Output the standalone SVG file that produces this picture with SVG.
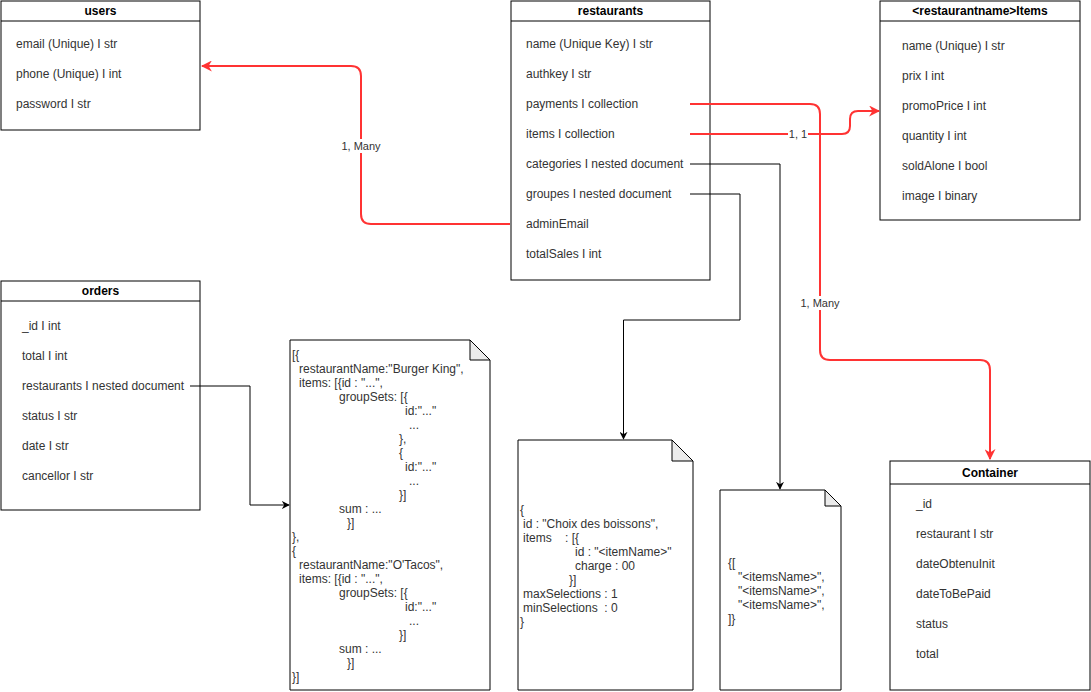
<svg xmlns="http://www.w3.org/2000/svg" width="1091" height="692" viewBox="0 0 1091 692">
<defs>
<style>
.box{fill:#fff;stroke:#000;stroke-width:1}
.title{font-family:"Liberation Sans",Arial,sans-serif;font-size:12px;font-weight:bold;fill:#000;text-anchor:middle;dominant-baseline:central}
.row{font-family:"Liberation Sans",Arial,sans-serif;font-size:12px;fill:#333;dominant-baseline:central}
.doc{font-family:"Liberation Sans",Arial,sans-serif;font-size:12px;fill:#333;dominant-baseline:central;white-space:pre}
.fold{fill:#ebebeb;stroke:#000;stroke-width:1}
.red{fill:none;stroke:#FF3333;stroke-width:2}
.blk{fill:none;stroke:#000;stroke-width:1}
.lbl{font-family:"Liberation Sans",Arial,sans-serif;font-size:11px;fill:#333;text-anchor:middle;dominant-baseline:central}
</style>
<marker id="ar" viewBox="0 0 10 10" refX="9" refY="5" markerWidth="8" markerHeight="8" markerUnits="userSpaceOnUse" orient="auto"><path d="M0,0 L10,5 L0,10 L3,5 Z" fill="#000"/></marker>
<marker id="arr" viewBox="0 0 10 10" refX="9" refY="5" markerWidth="11" markerHeight="11" markerUnits="userSpaceOnUse" orient="auto"><path d="M0,0 L10,5 L0,10 L3,5 Z" fill="#FF3333"/></marker>
</defs>
<rect width="1091" height="692" fill="#fff"/>

<g id="users">
<rect class="box" x="1" y="1" width="199" height="129"/>
<line class="blk" x1="1" y1="21" x2="200" y2="21"/>
<text class="title" x="100.5" y="11">users</text>
<text class="row" x="16" y="44">email (Unique) I str</text>
<text class="row" x="16" y="74">phone (Unique) I int</text>
<text class="row" x="16" y="104">password I str</text>
</g>

<g id="restaurants">
<rect class="box" x="511" y="1" width="199" height="279"/>
<line class="blk" x1="511" y1="21" x2="710" y2="21"/>
<text class="title" x="610.5" y="11">restaurants</text>
<text class="row" x="526" y="44">name (Unique Key) I str</text>
<text class="row" x="526" y="74">authkey I str</text>
<text class="row" x="526" y="104">payments I collection</text>
<text class="row" x="526" y="134">items I collection</text>
<text class="row" x="526" y="164">categories I nested document</text>
<text class="row" x="526" y="194">groupes I nested document</text>
<text class="row" x="526" y="224">adminEmail</text>
<text class="row" x="526" y="254">totalSales I int</text>
</g>

<g id="items">
<rect class="box" x="880" y="1" width="200" height="219"/>
<line class="blk" x1="880" y1="21" x2="1080" y2="21"/>
<text class="title" x="980" y="11">&lt;restaurantname&gt;Items</text>
<text class="row" x="902" y="46">name (Unique) I str</text>
<text class="row" x="902" y="76">prix I int</text>
<text class="row" x="902" y="106">promoPrice I int</text>
<text class="row" x="902" y="136">quantity I int</text>
<text class="row" x="902" y="166">soldAlone I bool</text>
<text class="row" x="902" y="196">image I binary</text>
</g>

<g id="orders">
<rect class="box" x="1" y="281" width="199" height="229"/>
<line class="blk" x1="1" y1="301" x2="200" y2="301"/>
<text class="title" x="100.5" y="291">orders</text>
<text class="row" x="22" y="326">_id I int</text>
<text class="row" x="22" y="356">total I int</text>
<text class="row" x="22" y="386">restaurants I nested document</text>
<text class="row" x="22" y="416">status I str</text>
<text class="row" x="22" y="446">date I str</text>
<text class="row" x="22" y="476">cancellor I str</text>
</g>

<g id="container">
<rect class="box" x="890" y="461" width="200" height="229"/>
<line class="blk" x1="890" y1="484" x2="1090" y2="484"/>
<text class="title" x="990" y="473">Container</text>
<text class="row" x="916" y="504">_id</text>
<text class="row" x="916" y="534">restaurant I str</text>
<text class="row" x="916" y="564">dateObtenuInit</text>
<text class="row" x="916" y="594">dateToBePaid</text>
<text class="row" x="916" y="624">status</text>
<text class="row" x="916" y="654">total</text>
</g>

<g id="doc-orders">
<path class="box" d="M290,340 L470,340 L490,360 L490,690 L290,690 Z"/>
<path class="fold" d="M470,340 L470,360 L490,360 Z"/>
<text class="doc">
<tspan x="292" y="355">[{</tspan>
<tspan x="299" y="369">restaurantName:"Burger King",</tspan>
<tspan x="299" y="383">items: [{id : "...",</tspan>
<tspan x="339" y="397">groupSets: [{</tspan>
<tspan x="405" y="411">id:"..."</tspan>
<tspan x="409" y="425">...</tspan>
<tspan x="399" y="439">},</tspan>
<tspan x="399" y="453">{</tspan>
<tspan x="405" y="467">id:"..."</tspan>
<tspan x="409" y="481">...</tspan>
<tspan x="399" y="495">}]</tspan>
<tspan x="339" y="509">sum : ...</tspan>
<tspan x="347" y="523">}]</tspan>
<tspan x="292" y="537">},</tspan>
<tspan x="292" y="551">{</tspan>
<tspan x="299" y="565">restaurantName:"O'Tacos",</tspan>
<tspan x="299" y="579">items: [{id : "...",</tspan>
<tspan x="339" y="593">groupSets: [{</tspan>
<tspan x="405" y="607">id:"..."</tspan>
<tspan x="409" y="621">...</tspan>
<tspan x="399" y="635">}]</tspan>
<tspan x="339" y="649">sum : ...</tspan>
<tspan x="347" y="663">}]</tspan>
<tspan x="292" y="677">}]</tspan>
</text>
</g>

<g id="doc-groupes">
<path class="box" d="M518,440 L672,440 L693,461 L693,690 L518,690 Z"/>
<path class="fold" d="M672,440 L672,461 L693,461 Z"/>
<text class="doc" xml:space="preserve"><tspan x="520" y="510">{</tspan><tspan x="523" y="524">id : "Choix des boissons",</tspan><tspan x="523" y="538">items    : [{</tspan><tspan x="575" y="552">id : "&lt;itemName&gt;"</tspan><tspan x="575" y="566">charge : 00</tspan><tspan x="569" y="580">}]</tspan><tspan x="523" y="594">maxSelections : 1</tspan><tspan x="523" y="608">minSelections  : 0</tspan><tspan x="520" y="622">}</tspan></text>
</g>

<g id="doc-categories">
<path class="box" d="M720,490 L825,490 L841,506 L841,690 L720,690 Z"/>
<path class="fold" d="M825,490 L825,506 L841,506 Z"/>
<text class="doc">
<tspan x="728" y="563">{[</tspan>
<tspan x="738" y="577">"&lt;itemsName&gt;",</tspan>
<tspan x="738" y="591">"&lt;itemsName&gt;",</tspan>
<tspan x="738" y="605">"&lt;itemsName&gt;",</tspan>
<tspan x="728" y="619">]}</tspan>
</text>
</g>

<g id="connectors">
<path class="red" d="M510,224 L371,224 Q361,224 361,214 L361,76 Q361,66 351,66 L202,66" marker-end="url(#arr)"/>
<rect x="339" y="139" width="44" height="14" fill="#fff"/>
<text class="lbl" x="361" y="146">1, Many</text>

<path class="red" d="M690,104 L810,104 Q820,104 820,114 L820,350 Q820,360 830,360 L980,360 Q990,360 990,370 L990,459" marker-end="url(#arr)"/>
<rect x="798" y="296" width="44" height="14" fill="#fff"/>
<text class="lbl" x="820" y="303">1, Many</text>

<path class="red" d="M690,134 L842,134 Q850,134 850,126 L850,119 Q850,111 858,111 L879,111" marker-end="url(#arr)"/>
<rect x="788" y="127" width="20" height="14" fill="#fff"/>
<text class="lbl" x="798" y="134">1, 1</text>

<path class="blk" d="M690,164 L780,164 L780,489" marker-end="url(#ar)"/>
<path class="blk" d="M690,194 L740,194 L740,320 L623.5,320 L623.5,439" marker-end="url(#ar)"/>
<path class="blk" d="M190,386 L250,386 L250,505 L289,505" marker-end="url(#ar)"/>
</g>
</svg>
